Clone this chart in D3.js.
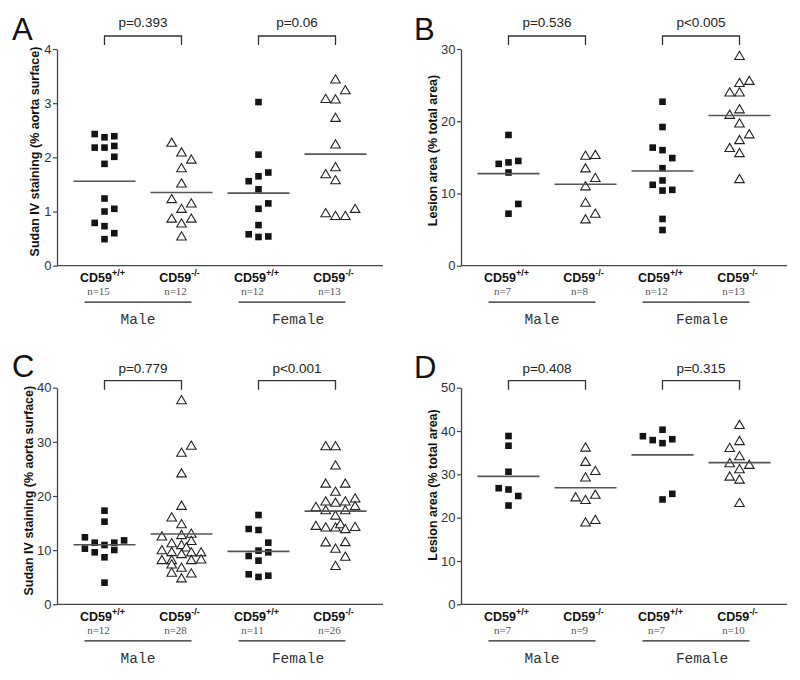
<!DOCTYPE html>
<html><head><meta charset="utf-8">
<script src="https://cdn.jsdelivr.net/npm/d3@7"></script>
<style>body{margin:0;background:#fff}</style>
</head><body>
<svg id="c" width="800" height="680"></svg>
<script>
// ---------- DATA ----------
const categories = ["CD59+/+ Male","CD59-/- Male","CD59+/+ Female","CD59-/- Female"];
const genotypeSup = ["+/+","-/-","+/+","-/-"];
const sexLabels = ["Male","Female"];

// Panel A: Sudan IV staining (% aorta surface)
const aMaleWT = [2.43,2.37,2.39,2.18,2.18,2.21,2.01,1.88,1.24,1.00,1.05,0.79,0.73,0.60,0.49];
const aMaleWTCol = [-1,0,1,-1,0,1,1,0,0,0,1,-1,0,1,0];
const aMaleKO = [2.27,2.09,1.96,1.80,1.52,1.23,1.15,1.05,0.87,0.87,0.78,0.54];
const aMaleKOCol = [-1,0,1,0,0,-1,1,0,-1,1,0,0];
const aFemWT = [3.02,2.05,1.56,1.65,1.72,1.41,1.15,1.05,0.75,0.58,0.53,0.54];
const aFemWTCol = [0,0,-1,0,1,0,1,0,0,-1,0,1];
const aFemKO = [3.44,3.24,3.08,3.07,2.73,2.24,1.82,1.69,1.58,0.97,0.92,0.92,1.05];
const aFemKOCol = [0,1,-1,0,0,0,0,-1,0,-1,0,1,2];
const aMedians = [1.56,1.35,1.34,2.06];
const aN = ["n=15","n=12","n=12","n=13"];
const aP = ["p=0.393","p=0.06"];
const aTicks = [0,1,2,3,4];

// Panel B: Lesion area (% total area)
const bMaleWT = [18.1,14.1,14.3,14.5,12.9,8.55,7.2];
const bMaleWTCol = [0,-1,0,1,0,1,0];
const bMaleKO = [15.24,15.33,13.49,12.15,11.0,8.73,6.43,7.2];
const bMaleKOCol = [0,1,0,1,0,0,0,1];
const bFemWT = [22.7,19.2,16.35,16.0,14.9,13.5,11.2,11.8,10.4,10.5,6.47,4.94];
const bFemWTCol = [0,0,-1,0,1,0,-1,0,0,1,0,0];
const bFemKO = [29.04,25.3,25.6,24.0,24.0,21.66,20.9,19.7,18.2,17.4,16.3,15.6,12.0];
const bFemKOCol = [0,0,1,-1,0,0,-1,0,1,0,-1,0,0];
const bMedians = [12.74,11.27,13.1,20.8];
const bN = ["n=7","n=8","n=12","n=13"];
const bP = ["p=0.536","p<0.005"];
const bTicks = [0,10,20,30];

// Panel C: Sudan IV staining (% aorta surface)
const cMaleWT = [17.29,15.26,12.37,11.38,11.38,11.8,10.28,10.95,9.6,10.03,8.68,4.0];
const cMaleWTCol = [0,0,-2,-1,1,2,-2,0,-1,1,0,0];
const cMaleKO = [37.7,29.3,28.0,24.2,18.2,16.06,14.8,12.55,12.8,13.04,11.3,11.7,10.95,10.5,10.0,9.66,9.29,9.6,9.6,8.18,8.18,8.18,8.3,7.38,6.76,5.84,5.72,4.8];
const cMaleKOCol = [0,1,0,0,0,-1,0,-2,0,1,-1,1,0,0.5,-2,-1,0,1,2,-2,-1,1,2,-1,0,-1,1,0];
const cFemWT = [16.49,13.91,13.72,11.38,9.91,9.6,8.92,8.06,5.54,5.05,5.29];
const cFemWTCol = [0,-1,0,1,0,1,-1,0,-1,0,1];
const cFemKO = [29.2,29.2,25.66,22.3,22.3,20.8,18.0,19.0,18.76,19.0,19.57,17.4,17.4,18.15,16.4,14.5,14.2,14.2,14.8,13.9,14.3,11.45,11.5,10.27,8.8,7.1];
const cFemKOCol = [-1,0,0,-1,1,0,-2,-1,0,1,2,-1,1,2,0,-2,-1,0,0.5,1,2,-1,1,0,1,0];
const cMedians = [11.0,12.98,9.78,17.2];
const cN = ["n=12","n=28","n=11","n=26"];
const cP = ["p=0.779","p<0.001"];
const cTicks = [0,10,20,30,40];

// Panel D: Lesion area (% total area)
const dMaleWT = [38.85,36.6,30.6,26.8,26.5,25.0,22.8];
const dMaleWTCol = [0,0,0,-1,0,1,0];
const dMaleKO = [36.2,32.9,30.8,29.3,24.7,24.1,25.3,18.9,19.5];
const dMaleKOCol = [0,0,1,0,-1,0,1,0,1];
const dFemWT = [38.8,37.9,40.3,37.2,38.1,24.2,25.5];
const dFemWTCol = [-2,-1,0,0,1,0,1];
const dFemKO = [41.4,37.7,36.1,34.2,32.6,32.2,31.2,29.5,28.8,23.4];
const dFemKOCol = [0,0,-1,0,-1,1,0,-1,0,0];
const dMedians = [29.54,26.9,34.5,32.7];
const dN = ["n=7","n=9","n=7","n=10"];
const dP = ["p=0.408","p=0.315"];
const dTicks = [0,10,20,30,40,50];

// ---------- LAYOUT ----------
const panels = [
  {letter:"A", lx:12, ly:40, ax:57, y0:265.7, yTop:49, ticks:aTicks, ylab:"Sudan IV staining (% aorta surface)", ylx:39, yly:151.5, brY:36, pY:27,
   groups:[[aMaleWT,aMaleWTCol],[aMaleKO,aMaleKOCol],[aFemWT,aFemWTCol],[aFemKO,aFemKOCol]], med:aMedians, n:aN, p:aP},
  {letter:"B", lx:414, ly:40, ax:461, y0:265.7, yTop:49, ticks:bTicks, ylab:"Lesion area (% total area)", ylx:436.5, yly:150.5, brY:36, pY:27,
   groups:[[bMaleWT,bMaleWTCol],[bMaleKO,bMaleKOCol],[bFemWT,bFemWTCol],[bFemKO,bFemKOCol]], med:bMedians, n:bN, p:bP},
  {letter:"C", lx:12, ly:377, ax:57, y0:604.3, yTop:387.7, ticks:cTicks, ylab:"Sudan IV staining (% aorta surface)", ylx:33, yly:490.7, brY:380.7, pY:372.5,
   groups:[[cMaleWT,cMaleWTCol],[cMaleKO,cMaleKOCol],[cFemWT,cFemWTCol],[cFemKO,cFemKOCol]], med:cMedians, n:cN, p:cP},
  {letter:"D", lx:414, ly:378, ax:461, y0:604.3, yTop:387.7, ticks:dTicks, ylab:"Lesion area (% total area)", ylx:436.5, yly:485, brY:380.7, pY:372.5,
   groups:[[dMaleWT,dMaleWTCol],[dMaleKO,dMaleKOCol],[dFemWT,dFemWTCol],[dFemKO,dFemKOCol]], med:dMedians, n:dN, p:dP}
];

const svg = d3.select("#c");
const SANS = "'Liberation Sans', Arial, sans-serif";
const colW = 9.8;
const triPath = "M0,-4.6L4.8,3.6L-4.8,3.6Z";

panels.forEach(P => {
  const g = svg.append("g");
  const y = d3.scaleLinear().domain([0, d3.max(P.ticks)]).range([P.y0, P.yTop]);
  const x = d3.scalePoint().domain(categories).range([P.ax + 47.5, P.ax + 278.5]);

  // panel letter
  g.append("text").attr("x", P.lx).attr("y", P.ly).attr("font-family", SANS)
    .attr("font-size", 31).attr("fill", "#111").text(P.letter);

  // y axis
  const yAxis = d3.axisLeft(y).tickValues(P.ticks).tickFormat(d3.format("d"))
    .tickSize(4).tickPadding(1.5).tickSizeOuter(0);
  const ya = g.append("g").attr("transform", `translate(${P.ax},0)`).call(yAxis);
  ya.select(".domain").attr("stroke", "#444").attr("stroke-width", 1.3);
  ya.selectAll(".tick line").attr("stroke", "#444").attr("stroke-width", 1.2);
  ya.selectAll(".tick text").attr("font-family", SANS).attr("font-size", 13).attr("fill", "#333");

  // x axis line
  g.append("line").attr("x1", P.ax).attr("x2", P.ax + 326).attr("y1", P.y0).attr("y2", P.y0)
    .attr("stroke", "#444").attr("stroke-width", 1.3);

  // y label
  g.append("text").attr("transform", `translate(${P.ylx},${P.yly}) rotate(-90)`)
    .attr("text-anchor", "middle").attr("font-family", SANS).attr("font-weight", "bold")
    .attr("font-size", 12.5).attr("fill", "#111").text(P.ylab);

  // points
  P.groups.forEach((grp, gi) => {
    const [vals, cols] = grp;
    const cx = x(categories[gi]);
    const pts = vals.map((v, i) => ({v, c: cols[i]}));
    if (gi % 2 === 0) {
      g.selectAll(null).data(pts).enter().append("rect")
        .attr("x", d => cx + d.c * colW - 3.3).attr("y", d => y(d.v) - 3.3)
        .attr("width", 6.6).attr("height", 6.6).attr("fill", "#141414");
    } else {
      g.selectAll(null).data(pts).enter().append("path")
        .attr("d", triPath)
        .attr("transform", d => `translate(${cx + d.c * colW},${y(d.v)})`)
        .attr("fill", "#fff").attr("stroke", "#222").attr("stroke-width", 1.1);
    }
  });

  // median lines
  g.selectAll(null).data(P.med).enter().append("line")
    .attr("x1", (d, i) => x(categories[i]) - 31).attr("x2", (d, i) => x(categories[i]) + 31)
    .attr("y1", d => y(d)).attr("y2", d => y(d))
    .attr("stroke", "#555").attr("stroke-width", 1.6);

  // brackets and p values
  [0, 1].forEach(k => {
    const x1 = x(categories[2 * k]), x2 = x(categories[2 * k + 1]);
    g.append("path").attr("d", `M${x1},${P.brY + 9}V${P.brY}H${x2}V${P.brY + 9}`)
      .attr("fill", "none").attr("stroke", "#333").attr("stroke-width", 1.3);
    g.append("text").attr("x", (x1 + x2) / 2).attr("y", P.pY).attr("text-anchor", "middle")
      .attr("font-family", SANS).attr("font-size", 13.5).attr("fill", "#222").text(P.p[k]);
  });

  // category labels
  categories.forEach((cat, i) => {
    const cx = x(cat);
    const t = g.append("text").attr("x", cx - 2).attr("y", P.y0 + 16.5).attr("text-anchor", "middle")
      .attr("font-family", SANS).attr("font-weight", "bold").attr("font-size", 12.5).attr("fill", "#111");
    t.append("tspan").text("CD59");
    t.append("tspan").attr("font-size", 9).attr("dy", -6).text(genotypeSup[i]);
    g.append("text").attr("x", cx - 6).attr("y", P.y0 + 29.3).attr("text-anchor", "middle")
      .attr("font-family", "'Liberation Serif', serif").attr("font-size", 11).attr("fill", "#555")
      .text(P.n[i]);
  });

  // sex underline and labels
  [0, 1].forEach(k => {
    const x1 = x(categories[2 * k]) - 20, x2 = x(categories[2 * k + 1]) + 10;
    g.append("line").attr("x1", x1).attr("x2", x2).attr("y1", P.y0 + 36.5).attr("y2", P.y0 + 36.5)
      .attr("stroke", "#222").attr("stroke-width", 1.2);
    g.append("text").attr("x", (x1 + x2) / 2 + (k ? 6 : 0)).attr("y", P.y0 + 58.5).attr("text-anchor", "middle")
      .attr("font-family", "'Liberation Mono', monospace").attr("font-size", 14.5).attr("fill", "#333")
      .text(sexLabels[k]);
  });
});
</script>
</body></html>
